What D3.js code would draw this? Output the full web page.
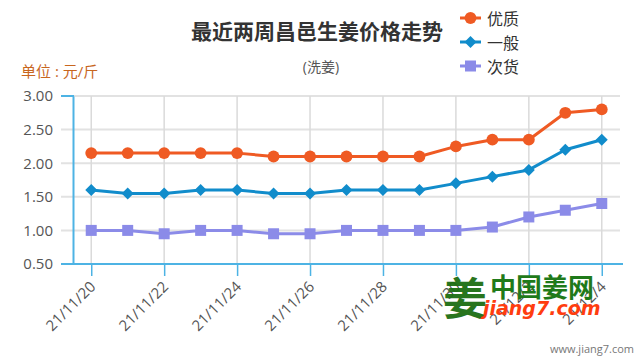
<!DOCTYPE html>
<html><head><meta charset="utf-8">
<script src="https://cdn.jsdelivr.net/npm/d3@7"></script>
<style>html,body{margin:0;padding:0;background:#fff;}svg{display:block;}</style>
</head><body>
<script>
const dates = ["21/11/20","21/11/21","21/11/22","21/11/23","21/11/24","21/11/25","21/11/26","21/11/27","21/11/28","21/11/29","21/11/30","21/12/1","21/12/2","21/12/3","21/12/4"];
const youzhi = [2.15,2.15,2.15,2.15,2.15,2.10,2.10,2.10,2.10,2.10,2.25,2.35,2.35,2.75,2.80];
const yiban  = [1.60,1.55,1.55,1.60,1.60,1.55,1.55,1.60,1.60,1.60,1.70,1.80,1.90,2.20,2.35];
const cihuo  = [1.00,1.00,0.95,1.00,1.00,0.95,0.95,1.00,1.00,1.00,1.00,1.05,1.20,1.30,1.40];
const seriesNames = ["优质","一般","次货"];
const yTicks = [0.5,1.0,1.5,2.0,2.5,3.0];
const xLabelDates = ["21/11/20","21/11/22","21/11/24","21/11/26","21/11/28","21/11/30","21/12/2","21/12/4"];

const colors = ["#ef5a23","#118ccb","#8b8be8"];
const series = [youzhi, yiban, cihuo];

const W = 640, H = 360;
const svg = d3.select("body").append("svg").attr("width", W).attr("height", H);
const FONT = "'Open Sans','Noto Sans CJK SC',sans-serif";

function marker(k) {
  if (k === 0) return d3.symbol().type(d3.symbolCircle).size(110)();
  if (k === 1) return "M0,-6L6,0L0,6L-6,0Z";
  return "M-5.5,-5.5H5.5V5.5H-5.5Z";
}

const x = d3.scalePoint().domain(dates).range([73, 620]).padding(0.5);
const y = d3.scaleLinear().domain([0.5, 3.0]).range([264, 96]);

// horizontal gridlines
svg.append("g").selectAll("line").data(yTicks.filter(v => v > 0.5)).join("line")
  .attr("x1", 61).attr("x2", 620).attr("y1", d => y(d)).attr("y2", d => y(d))
  .attr("stroke", "#e2e2e2").attr("stroke-width", 2);
// vertical gridlines
svg.append("g").selectAll("line").data(xLabelDates).join("line")
  .attr("x1", d => x(d)).attr("x2", d => x(d)).attr("y1", y(3.0)).attr("y2", y(0.5))
  .attr("stroke", "#dadada").attr("stroke-width", 1.5);

// y axis
const yAxis = d3.axisLeft(y).tickValues(yTicks).tickFormat(d3.format(".2f")).tickSize(0).tickPadding(20);
const gy = svg.append("g").attr("transform", "translate(73,0)").call(yAxis);
gy.select(".domain").attr("stroke", "#4db3e4").attr("stroke-width", 2);
gy.selectAll("text").attr("font-family", FONT).attr("font-size", 15).attr("fill", "#555");
svg.append("line").attr("x1", 61).attr("x2", 74).attr("y1", y(3.0)).attr("y2", y(3.0))
  .attr("stroke", "#4db3e4").attr("stroke-width", 2);

// x axis
const xAxis = d3.axisBottom(x).tickValues(xLabelDates).tickSize(12).tickSizeOuter(0).tickPadding(4);
const gx = svg.append("g").attr("transform", "translate(0,264)").call(xAxis);
gx.select(".domain").attr("d", "M61,0H623").attr("stroke", "#4db3e4").attr("stroke-width", 2);
gx.selectAll(".tick line").attr("stroke", "#4db3e4").attr("stroke-width", 1.5);
gx.selectAll("text").attr("font-family", FONT).attr("font-size", 15).attr("fill", "#555")
  .attr("text-anchor", "end").attr("dy", "0.35em")
  .attr("transform", "translate(1,20) rotate(-45)").attr("x", 0).attr("y", 0);

// lines + markers
const line = d3.line().x((d, i) => x(dates[i])).y(d => y(d));
series.forEach((s, k) => {
  svg.append("path").datum(s).attr("d", line).attr("fill", "none")
    .attr("stroke", colors[k]).attr("stroke-width", 3).attr("stroke-linejoin", "round");
  svg.append("g").selectAll("path").data(s).join("path")
    .attr("d", marker(k))
    .attr("transform", (d, i) => `translate(${x(dates[i])},${y(d)})`)
    .attr("fill", colors[k]);
});

// title
svg.append("text").attr("x", 317).attr("y", 30).attr("text-anchor", "middle").attr("dominant-baseline", "central")
  .attr("font-family", "'Noto Sans CJK SC',sans-serif").attr("font-weight", "bold").attr("font-size", 21)
  .attr("fill", "#333").text("最近两周昌邑生姜价格走势");
svg.append("text").attr("x", 321).attr("y", 66).attr("text-anchor", "middle").attr("dominant-baseline", "central")
  .attr("font-family", FONT).attr("font-size", 14).attr("fill", "#555").text("(洗姜)");
svg.append("text").attr("x", 21).attr("y", 71).attr("dominant-baseline", "central")
  .attr("font-family", FONT).attr("font-size", 15).attr("fill", "#c8661e").text("单位 : 元/斤");

// legend
const rowY = [18, 42, 66];
seriesNames.forEach((n, k) => {
  const g = svg.append("g").attr("transform", `translate(0,${rowY[k]})`);
  g.append("line").attr("x1", 460).attr("x2", 481).attr("stroke", colors[k]).attr("stroke-width", 3);
  g.append("path").attr("d", marker(k)).attr("transform", "translate(470.5,0)").attr("fill", colors[k]);
  g.append("text").attr("x", 487).attr("dominant-baseline", "central")
    .attr("font-family", "'Noto Sans CJK SC',sans-serif").attr("font-size", 16).attr("fill", "#333").text(n);
});

// watermark
svg.append("text").attr("x", 465).attr("y", 296).attr("text-anchor", "middle").attr("dominant-baseline", "central")
  .attr("font-family", "'Noto Sans CJK SC',sans-serif").attr("font-weight", "bold").attr("font-size", 44)
  .attr("fill", "#1d6e12").attr("opacity", 0.95).text("姜");
svg.append("text").attr("x", 490).attr("y", 285).attr("dominant-baseline", "central")
  .attr("font-family", "'Noto Sans CJK SC',sans-serif").attr("font-weight", "bold").attr("font-size", 26)
  .attr("fill", "#1f7a1a").text("中国姜网");
svg.append("text").attr("x", 483).attr("y", 308).attr("dominant-baseline", "central")
  .attr("font-family", "'DejaVu Sans',sans-serif").attr("font-weight", "bold").attr("font-style", "italic").attr("font-size", 19)
  .attr("fill", "#ff3d0f").text("jiang7.com");
svg.append("text").attr("x", 634).attr("y", 348).attr("text-anchor", "end").attr("dominant-baseline", "central")
  .attr("font-family", FONT).attr("font-size", 11).attr("fill", "#777").text("www.jiang7.com");
</script>
</body></html>
